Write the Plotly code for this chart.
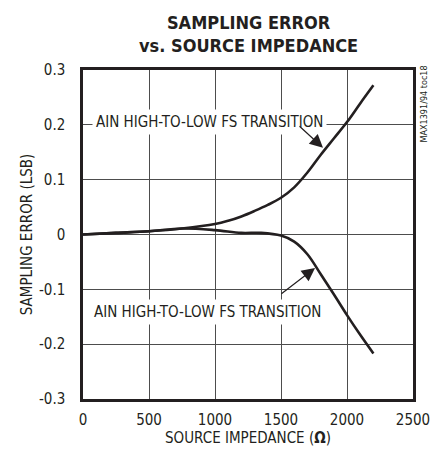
import plotly.graph_objects as go

# Data
x_upper = [0, 250, 500, 750, 1000, 1100, 1200, 1300, 1400, 1500, 1600, 1700, 1800, 1900, 2000, 2100, 2200]
y_upper = [0.0, 0.003, 0.006, 0.011, 0.019, 0.025, 0.033, 0.043, 0.054, 0.067, 0.086, 0.113, 0.145, 0.175, 0.205, 0.239, 0.272]
x_lower = [0, 250, 500, 750, 1000, 1200, 1350, 1500, 1600, 1700, 1800, 1900, 2000, 2100, 2200]
y_lower = [0.0, 0.003, 0.006, 0.011, 0.008, 0.003, 0.003, -0.002, -0.013, -0.036, -0.072, -0.109, -0.147, -0.183, -0.217]

x_ticks = [0, 500, 1000, 1500, 2000, 2500]
x_ticklabels = ["0", "500", "1000", "1500", "2000", "2500"]
y_ticks = [0.3, 0.2, 0.1, 0, -0.1, -0.2, -0.3]
y_ticklabels = ["0.3", "0.2", "0.1", "0", "-0.1", "-0.2", "-0.3"]

label_upper = "AIN HIGH-TO-LOW FS TRANSITION"
label_lower = "AIN HIGH-TO-LOW FS TRANSITION"

FONT = "DejaVu Sans Condensed, Liberation Sans Narrow, Arial Narrow, Liberation Sans, sans-serif"
INK = "#231f20"

fig = go.Figure()
for xs, ys in ((x_upper, y_upper), (x_lower, y_lower)):
    fig.add_trace(go.Scatter(x=xs, y=ys, mode="lines",
                             line=dict(color=INK, width=2.6, shape="spline", smoothing=1.0),
                             showlegend=False, hoverinfo="skip"))

annotations = [
    dict(text="<b>SAMPLING ERROR<br>vs. SOURCE IMPEDANCE</b>", xref="paper", yref="paper",
         x=0.5, y=1.0, yshift=12, xanchor="center", yanchor="bottom", showarrow=False,
         font=dict(family=FONT, size=18, color=INK)),
    dict(text="MAX1391/94 toc18", xref="paper", yref="paper", x=1.0, y=1.0,
         xanchor="left", yanchor="top", xshift=3, yshift=6, textangle=-90, showarrow=False,
         font=dict(family=FONT, size=9, color=INK)),
    dict(text=label_upper, x=955, y=0.205, xref="x", yref="y", showarrow=False,
         bgcolor="white", borderpad=3, font=dict(family=FONT, size=15, color=INK)),
    dict(text=label_lower, x=945, y=-0.141, xref="x", yref="y", showarrow=False,
         bgcolor="white", borderpad=3, font=dict(family=FONT, size=15, color=INK)),
    dict(text="", x=1818, y=0.158, ax=1629, ay=0.200, xref="x", yref="y",
         axref="x", ayref="y", showarrow=True, arrowhead=2, arrowsize=2.2,
         arrowwidth=1.2, arrowcolor=INK),
    dict(text="", x=1758, y=-0.061, ax=1492, ay=-0.110, xref="x", yref="y",
         axref="x", ayref="y", showarrow=True, arrowhead=2, arrowsize=2.2,
         arrowwidth=1.2, arrowcolor=INK),
]

# page body adds an 8px offset, so the figure is sized to fit the window
fig.update_layout(
    width=425, height=445,
    margin=dict(l=75, r=20, t=62, b=54, autoexpand=False),
    paper_bgcolor="white", plot_bgcolor="white",
    font=dict(family=FONT, size=15, color=INK),
    annotations=annotations,
    showlegend=False,
)
fig.update_xaxes(range=[0, 2500], tickvals=x_ticks, ticktext=x_ticklabels,
                 showgrid=True, gridcolor="#4d4d4d", gridwidth=1,
                 showline=True, linecolor=INK, linewidth=2.5, mirror=True,
                 ticks="", ticklabelstandoff=5, zeroline=False, automargin=False,
                 title=dict(text="SOURCE IMPEDANCE (<b>Ω</b>)", standoff=3,
                            font=dict(family=FONT, size=15, color=INK)))
fig.update_yaxes(range=[-0.3, 0.3], tickvals=y_ticks, ticktext=y_ticklabels,
                 showgrid=True, gridcolor="#4d4d4d", gridwidth=1,
                 showline=True, linecolor=INK, linewidth=2.5, mirror=True,
                 ticks="", ticklabelstandoff=12, zeroline=False, automargin=False,
                 title=dict(text="SAMPLING ERROR (LSB)", standoff=3,
                            font=dict(family=FONT, size=15, color=INK)))

fig.write_html("out.html")
